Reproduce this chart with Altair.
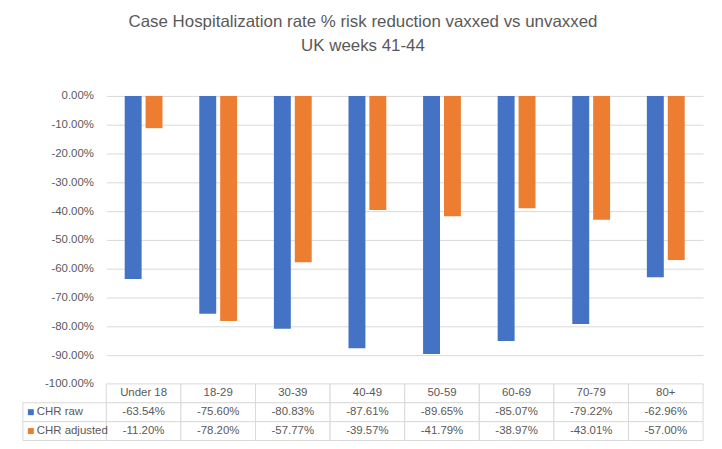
import altair as alt
import pandas as pd

categories = ["Under 18", "18-29", "30-39", "40-49", "50-59", "60-69", "70-79", "80+"]
series_names = ["CHR raw", "CHR adjusted"]
chr_raw = [-63.54, -75.60, -80.83, -87.61, -89.65, -85.07, -79.22, -62.96]
chr_adjusted = [-11.20, -78.20, -57.77, -39.57, -41.79, -38.97, -43.01, -57.00]
y_ticks = [0, -10, -20, -30, -40, -50, -60, -70, -80, -90, -100]

colors = ["#4472C4", "#ED7D31"]
grid = "#D9D9D9"
txt = "#595959"
FONT = "Liberation Sans"

bars = pd.DataFrame(
    [{"cat": c, "series": "CHR raw", "value": v} for c, v in zip(categories, chr_raw)]
    + [{"cat": c, "series": "CHR adjusted", "value": v} for c, v in zip(categories, chr_adjusted)]
)

rows = ["header"] + series_names
cells = []
for c, r, a in zip(categories, chr_raw, chr_adjusted):
    cells.append({"cat": c, "row": "header", "label": c})
    cells.append({"cat": c, "row": "CHR raw", "label": f"{r:.2f}%"})
    cells.append({"cat": c, "row": "CHR adjusted", "label": f"{a:.2f}%"})
cells = pd.DataFrame(cells)
legend_df = pd.DataFrame({"row": series_names, "series": series_names})

W = 601
x_scale = alt.Scale(domain=categories, paddingInner=0, paddingOuter=0)
color_scale = alt.Scale(domain=series_names, range=colors)
row_scale = alt.Scale(domain=rows, paddingInner=0, paddingOuter=0)

bar_chart = alt.Chart(bars).mark_bar().encode(
    x=alt.X("cat:N", scale=x_scale, axis=None, sort=categories),
    xOffset=alt.XOffset("series:N", sort=series_names,
                        scale=alt.Scale(domain=series_names, paddingInner=0.19, paddingOuter=0.88)),
    y=alt.Y("value:Q", scale=alt.Scale(domain=[-100, 0], nice=False),
            axis=alt.Axis(values=y_ticks, title=None, ticks=False, domain=False,
                          labelExpr="replace(format(datum.value, '.2f'), '\u2212', '-') + '%'",
                          labelFont=FONT, labelFontSize=11.5, labelColor=txt, labelPadding=13,
                          gridColor=grid, gridWidth=1)),
    color=alt.Color("series:N", scale=color_scale, legend=None),
).properties(width=W, height=290)

tbase = alt.Chart(cells).encode(
    x=alt.X("cat:N", scale=x_scale, axis=None, sort=categories),
    y=alt.Y("row:N", scale=row_scale, axis=None, sort=rows),
)
t_rect = tbase.mark_rect(fill="white", stroke=grid, strokeWidth=1)
t_text = tbase.mark_text(font=FONT, fontSize=11.5, color=txt).encode(text="label:N")
l_rect = alt.Chart(legend_df).mark_rect(fill="white", stroke=grid, strokeWidth=1).encode(
    x=alt.value(-84), x2=alt.value(0),
    y=alt.Y("row:N", scale=row_scale, axis=None, sort=rows),
)
l_text = alt.Chart(legend_df).mark_text(font=FONT, fontSize=11.5, color=txt, align="left").encode(
    x=alt.value(-70),
    y=alt.Y("row:N", scale=row_scale, axis=None, sort=rows),
    text="row:N",
)
l_sq = alt.Chart(legend_df).mark_square(size=36, opacity=1).encode(
    x=alt.value(-76),
    y=alt.Y("row:N", scale=row_scale, axis=None, sort=rows),
    color=alt.Color("series:N", scale=color_scale, legend=None),
)
table = alt.layer(t_rect, t_text, l_rect, l_text, l_sq).properties(width=W, height=57)

chart = alt.vconcat(bar_chart, table, spacing=0, bounds="flush").resolve_scale(
    y="independent"
).properties(
    title=alt.Title(
        ["Case Hospitalization rate % risk reduction vaxxed vs unvaxxed", "UK weeks 41-44"],
        font=FONT, fontSize=17, fontWeight="normal", color=txt, lineHeight=24,
        anchor="middle", offset=35, frame="bounds",
    ),
    padding={"left": 14, "top": 4, "right": 10, "bottom": 4},
    background="white",
).configure_view(strokeWidth=0)

chart.save("out.html", embed_options={"renderer": "svg", "actions": False})
